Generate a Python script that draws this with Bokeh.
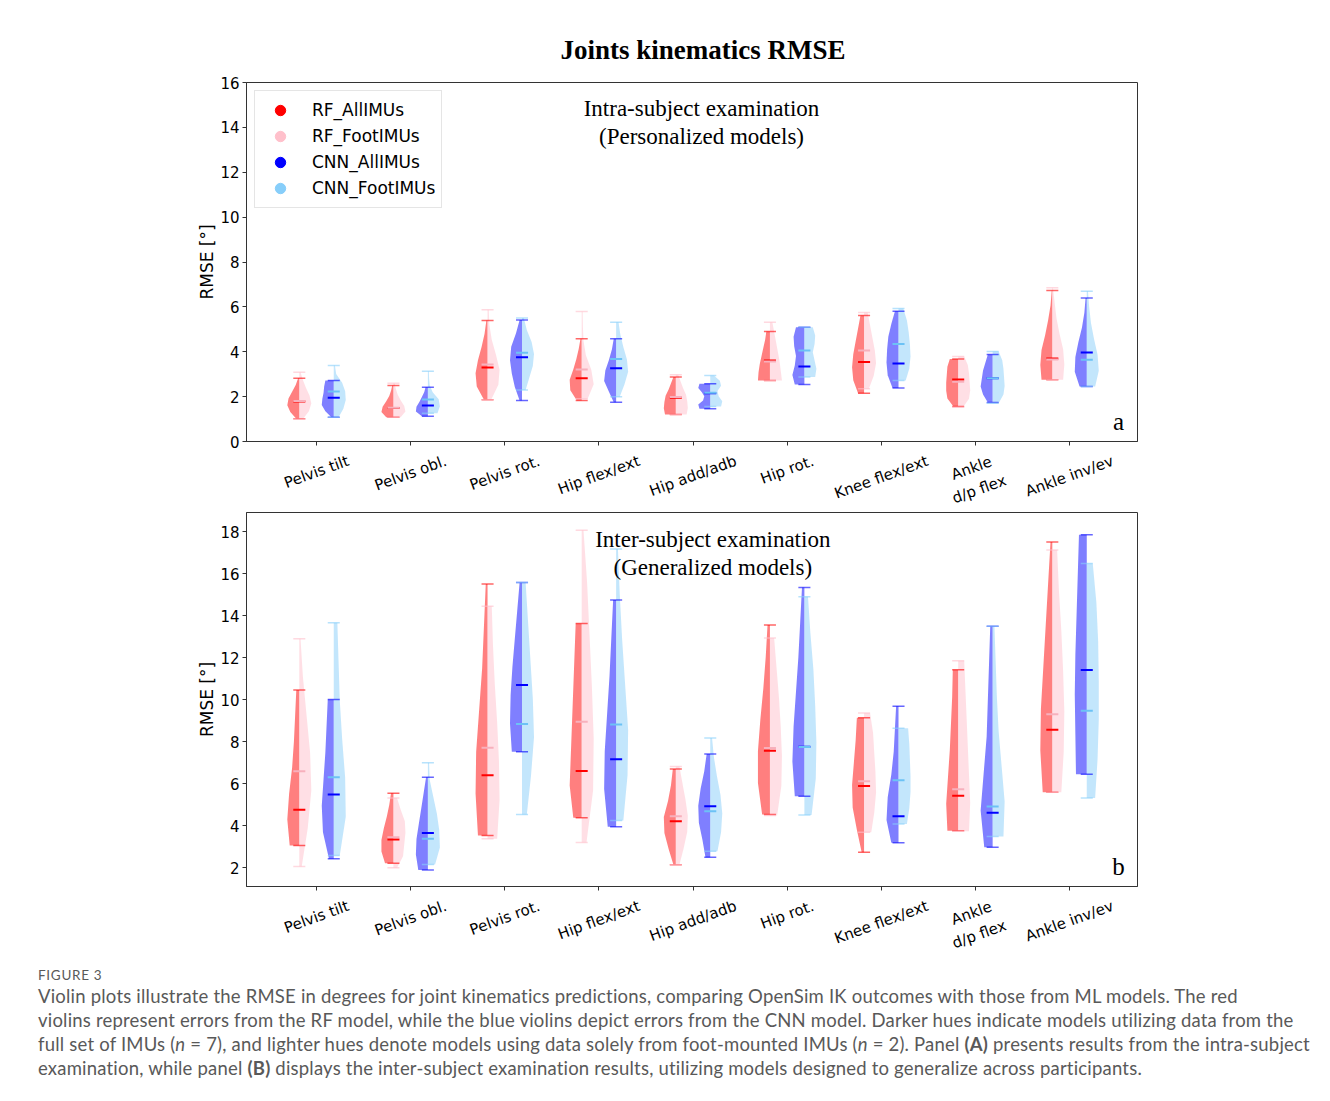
import math
from bokeh.plotting import figure
from bokeh.models import (FixedTicker, Range1d, Label, Legend, LegendItem, Div)
from bokeh.layouts import column
from bokeh.embed import file_html
from bokeh.resources import INLINE
from bokeh.core.properties import value

# ---------------- data ----------------
JOINTS = ["Pelvis tilt", "Pelvis obl.", "Pelvis rot.", "Hip flex/ext", "Hip add/adb",
          "Hip rot.", "Knee flex/ext", "Ankle\nd/p flex", "Ankle inv/ev"]
SERIES = ["RF_AllIMUs", "RF_FootIMUs", "CNN_AllIMUs", "CNN_FootIMUs"]
COLORS = ["#ff0000", "#ffc0cb", "#0000ff", "#87cefa"]
MEDIAN_COLORS = ["#ff0000", "#f7b0bc", "#0000ff", "#6cc2f5"]

A_YTICKS = [0, 2, 4, 6, 8, 10, 12, 14, 16]
B_YTICKS = [2, 4, 6, 8, 10, 12, 14, 16, 18]

# Panel A (intra-subject) : min / median / max per joint
A_RF_ALL_MIN = [1.01, 1.08, 1.86, 1.83, 1.20, 2.72, 2.15, 1.56, 2.75]
A_RF_ALL_MED = [1.78, 1.49, 3.30, 2.82, 1.95, 3.61, 3.54, 2.76, 3.70]
A_RF_ALL_MAX = [2.82, 2.50, 5.39, 4.58, 2.87, 4.90, 5.62, 3.68, 6.73]
A_RF_FOOT_MIN = [1.00, 1.08, 1.86, 1.90, 1.20, 2.72, 2.35, 1.53, 2.75]
A_RF_FOOT_MED = [1.80, 1.50, 3.43, 3.21, 1.98, 3.56, 4.06, 2.66, 3.65]
A_RF_FOOT_MAX = [3.09, 2.60, 5.87, 5.79, 2.97, 5.32, 5.75, 3.79, 6.85]
A_CNN_ALL_MIN = [1.08, 1.12, 1.83, 1.75, 1.46, 2.54, 2.38, 1.74, 2.45]
A_CNN_ALL_MED = [1.95, 1.60, 3.76, 3.27, 2.15, 3.34, 3.48, 2.82, 3.97]
A_CNN_ALL_MAX = [2.72, 2.42, 5.42, 4.58, 2.57, 5.09, 5.81, 3.88, 6.39]
A_CNN_FOOT_MIN = [1.08, 1.26, 2.30, 2.00, 1.56, 2.87, 2.72, 1.71, 2.45]
A_CNN_FOOT_MED = [2.23, 1.87, 3.95, 3.68, 2.17, 4.06, 4.35, 2.82, 3.64]
A_CNN_FOOT_MAX = [3.39, 3.13, 5.50, 5.32, 2.94, 5.09, 5.93, 4.01, 6.70]

# relative density (0..1) at 7 evenly spaced levels from min to max
A_RF_ALL_SHAPE = [[0.25, 0.75, 1.0, 0.9, 0.6, 0.3, 0.1], [0.6, 1.0, 0.9, 0.6, 0.35, 0.2, 0.1],
                  [0.3, 0.9, 1.0, 0.8, 0.5, 0.25, 0.1], [0.4, 0.95, 1.0, 0.7, 0.45, 0.25, 0.1],
                  [0.9, 1.0, 0.95, 0.85, 0.6, 0.4, 0.2], [1.0, 0.95, 0.85, 0.7, 0.55, 0.4, 0.3],
                  [0.5, 0.9, 1.0, 0.9, 0.7, 0.5, 0.3], [0.4, 0.9, 1.0, 1.0, 0.95, 0.9, 0.7],
                  [0.9, 1.0, 0.9, 0.6, 0.35, 0.15, 0.05]]
A_RF_FOOT_SHAPE = [[0.3, 0.8, 1.0, 0.85, 0.55, 0.3, 0.1], [0.6, 1.0, 0.9, 0.6, 0.35, 0.2, 0.1],
                   [0.3, 0.9, 1.0, 0.7, 0.35, 0.15, 0.1], [0.5, 1.0, 0.8, 0.35, 0.15, 0.1, 0.08],
                   [0.9, 1.0, 0.95, 0.85, 0.6, 0.4, 0.2], [1.0, 0.9, 0.8, 0.65, 0.5, 0.35, 0.2],
                   [0.4, 0.8, 1.0, 0.9, 0.7, 0.5, 0.3], [0.4, 0.9, 1.0, 0.95, 0.9, 0.8, 0.5],
                   [0.9, 1.0, 0.9, 0.6, 0.35, 0.2, 0.05]]
A_CNN_ALL_SHAPE = [[0.2, 0.7, 1.0, 0.95, 0.85, 0.8, 0.7], [0.5, 1.0, 0.95, 0.7, 0.5, 0.3, 0.2],
                   [0.2, 0.6, 0.85, 1.0, 0.9, 0.5, 0.2], [0.2, 0.6, 1.0, 0.9, 0.6, 0.35, 0.2],
                   [0.9, 1.0, 0.6, 0.5, 0.7, 1.0, 0.9], [0.8, 1.0, 0.8, 0.7, 0.85, 0.9, 0.7],
                   [0.5, 0.9, 1.0, 0.95, 0.85, 0.6, 0.3], [0.4, 0.8, 1.0, 0.9, 0.8, 0.6, 0.4],
                   [0.6, 1.0, 0.95, 0.7, 0.4, 0.2, 0.1]]
A_CNN_FOOT_SHAPE = [[0.4, 0.8, 1.0, 0.95, 0.7, 0.2, 0.1], [0.8, 1.0, 0.9, 0.4, 0.15, 0.1, 0.08],
                    [0.3, 0.6, 0.9, 1.0, 0.8, 0.4, 0.15], [0.3, 0.7, 1.0, 0.9, 0.6, 0.35, 0.2],
                    [0.9, 1.0, 0.7, 0.6, 0.9, 0.8, 0.3], [0.9, 1.0, 0.85, 0.7, 0.85, 0.9, 0.7],
                    [0.6, 0.9, 1.0, 0.95, 0.85, 0.7, 0.4], [0.5, 0.9, 1.0, 0.95, 0.9, 0.8, 0.5],
                    [0.7, 1.0, 0.9, 0.6, 0.35, 0.2, 0.1]]

# Panel B (inter-subject)
B_RF_ALL_MIN = [3.06, 2.22, 3.54, 4.38, 2.14, 4.54, 2.74, 3.77, 5.60]
B_RF_ALL_MED = [4.77, 3.35, 6.41, 6.61, 4.22, 7.58, 5.90, 5.43, 8.57]
B_RF_ALL_MAX = [10.47, 5.55, 15.51, 13.64, 6.71, 13.56, 9.14, 11.43, 17.52]
B_RF_FOOT_MIN = [2.06, 2.00, 3.38, 3.20, 2.14, 4.49, 3.69, 3.74, 5.60]
B_RF_FOOT_MED = [6.60, 3.45, 7.72, 8.96, 4.45, 7.71, 6.12, 5.74, 9.31]
B_RF_FOOT_MAX = [12.91, 5.33, 14.45, 18.08, 6.82, 12.94, 9.37, 11.86, 17.14]
B_CNN_ALL_MIN = [2.43, 1.90, 7.53, 3.95, 2.50, 5.41, 3.19, 2.98, 6.45]
B_CNN_ALL_MED = [5.49, 3.66, 10.71, 7.17, 4.93, 7.77, 4.45, 4.62, 11.42]
B_CNN_ALL_MAX = [10.02, 6.31, 15.59, 14.75, 7.42, 15.35, 9.69, 13.50, 17.86]
B_CNN_FOOT_MIN = [2.59, 2.16, 4.54, 4.25, 2.79, 4.52, 4.09, 3.49, 5.33]
B_CNN_FOOT_MED = [6.31, 3.38, 8.85, 8.83, 4.69, 7.75, 6.17, 4.92, 9.48]
B_CNN_FOOT_MAX = [13.67, 7.00, 15.59, 17.18, 8.18, 14.91, 8.64, 13.50, 16.49]

B_RF_ALL_SHAPE = [[0.8, 1.0, 0.85, 0.6, 0.45, 0.35, 0.25], [0.7, 1.0, 1.0, 0.8, 0.55, 0.35, 0.2],
                  [0.8, 1.0, 0.95, 0.7, 0.45, 0.3, 0.15], [0.7, 1.0, 0.9, 0.8, 0.7, 0.6, 0.5],
                  [0.2, 0.6, 0.95, 1.0, 0.65, 0.4, 0.25], [0.65, 1.0, 1.0, 0.8, 0.55, 0.35, 0.2],
                  [0.2, 0.6, 0.95, 1.0, 0.85, 0.7, 0.6], [0.9, 1.0, 0.85, 0.7, 0.6, 0.5, 0.45],
                  [0.8, 1.0, 0.95, 0.75, 0.55, 0.35, 0.15]]
B_RF_FOOT_SHAPE = [[0.2, 0.7, 1.0, 0.9, 0.6, 0.3, 0.1], [0.3, 0.8, 0.9, 1.0, 0.95, 0.6, 0.3],
                   [0.8, 1.0, 0.95, 0.8, 0.6, 0.45, 0.35], [0.4, 0.95, 1.0, 0.85, 0.65, 0.45, 0.15],
                   [0.3, 0.65, 0.95, 1.0, 0.8, 0.55, 0.3], [0.6, 0.95, 1.0, 0.9, 0.75, 0.55, 0.35],
                   [0.6, 0.85, 1.0, 0.95, 0.85, 0.75, 0.5], [0.9, 1.0, 0.9, 0.8, 0.7, 0.6, 0.5],
                   [0.75, 0.95, 1.0, 0.9, 0.75, 0.55, 0.4]]
B_CNN_ALL_SHAPE = [[0.4, 0.9, 1.0, 0.85, 0.7, 0.6, 0.5], [0.8, 1.0, 0.95, 0.75, 0.55, 0.35, 0.15],
                   [0.85, 1.0, 0.95, 0.8, 0.6, 0.4, 0.2], [0.7, 1.0, 0.95, 0.75, 0.55, 0.4, 0.25],
                   [0.4, 0.65, 0.95, 1.0, 0.8, 0.5, 0.3], [0.8, 1.0, 0.9, 0.7, 0.5, 0.35, 0.2],
                   [0.6, 1.0, 0.9, 0.6, 0.4, 0.3, 0.2], [0.7, 1.0, 0.75, 0.5, 0.4, 0.3, 0.2],
                   [0.9, 0.95, 1.0, 0.95, 0.85, 0.75, 0.65]]
B_CNN_FOOT_SHAPE = [[0.5, 1.0, 0.95, 0.7, 0.5, 0.4, 0.3], [0.6, 1.0, 0.95, 0.75, 0.45, 0.15, 0.1],
                    [0.4, 0.75, 1.0, 0.9, 0.7, 0.5, 0.3], [0.6, 0.95, 1.0, 0.75, 0.5, 0.3, 0.15],
                    [0.6, 0.9, 1.0, 0.85, 0.55, 0.3, 0.15], [0.6, 0.95, 1.0, 0.9, 0.75, 0.5, 0.3],
                    [0.7, 0.9, 1.0, 1.0, 0.95, 0.9, 0.8], [0.9, 1.0, 0.75, 0.5, 0.35, 0.25, 0.15],
                    [0.7, 0.9, 1.0, 1.0, 0.95, 0.8, 0.5]]

TITLE = "Joints kinematics RMSE"
A_NOTE = ["Intra-subject examination", "(Personalized models)"]
B_NOTE = ["Inter-subject examination", "(Generalized models)"]
Y_LABEL = "RMSE [°]"

CAPTION_HEAD = "FIGURE 3"
CAPTION_LINES = [
    "Violin plots illustrate the RMSE in degrees for joint kinematics predictions, comparing OpenSim IK outcomes with those from ML models. The red",
    "violins represent errors from the RF model, while the blue violins depict errors from the CNN model. Darker hues indicate models utilizing data from the",
    "full set of IMUs (<i>n</i> = 7), and lighter hues denote models using data solely from foot-mounted IMUs (<i>n</i> = 2). Panel <b>(A)</b> presents results from the intra-subject",
    "examination, while panel <b>(B)</b> displays the inter-subject examination results, utilizing models designed to generalize across participants.",
]

# ---------------- styling constants ----------------
HALF = 0.1275     # max half-width of a violin half (x units)
CAP = 0.064       # half length of min/max/median bars
OFF = 0.183       # offset of RF / CNN violin from the tick
ANG = math.radians(20)
SANS = "DejaVu Sans"
SERIF = "Liberation Serif"
AXC = "#333333"
X_RANGE = (-0.744, 8.722)
FRAME_W = 891
BL, BR = 246, 193
GAP = 9           # border under each panel, above its label strip
XL_SIZE = 15
XL_LH = 1.25
# approximate DejaVu Sans advance widths (em) for laying out the rotated labels
DJV = {" ": .318, "P": .603, "e": .615, "l": .278, "v": .592, "i": .278, "s": .521, "t": .392,
       "o": .612, "b": .635, ".": .318, "r": .411, "H": .752, "p": .635, "f": .352, "x": .592,
       "/": .337, "a": .613, "d": .635, "K": .656, "n": .634, "A": .684, "k": .579}


def make_panel(yr, yticks, mins, meds, maxs, shapes, frame_h, b_top):
    p = figure(frame_width=FRAME_W, frame_height=frame_h,
               x_range=Range1d(*X_RANGE), y_range=Range1d(*yr),
               output_backend="svg", toolbar_location=None,
               min_border_left=BL, min_border_right=BR,
               min_border_top=b_top, min_border_bottom=GAP,
               background_fill_color="white", border_fill_color="white")
    p.xgrid.visible = False
    p.ygrid.visible = False
    p.outline_line_color = AXC
    p.outline_line_width = 1

    for ax in (p.xaxis[0], p.yaxis[0]):
        ax.axis_line_color = AXC
        ax.major_tick_line_color = AXC
        ax.major_tick_out = 4
        ax.major_tick_in = 0
        ax.minor_tick_out = 0
        ax.minor_tick_in = 0
    p.xaxis.ticker = FixedTicker(ticks=list(range(len(JOINTS))))
    p.xaxis.major_label_overrides = {i: "" for i in range(len(JOINTS))}
    p.xaxis.major_label_text_font_size = "0px"
    p.xaxis.major_label_standoff = 0
    p.yaxis.ticker = FixedTicker(ticks=yticks)
    p.yaxis.major_label_text_font = SANS
    p.yaxis.major_label_text_font_size = "15px"
    p.yaxis.major_label_text_color = "black"
    p.yaxis.major_label_standoff = 3
    p.yaxis.axis_label = Y_LABEL
    p.yaxis.axis_label_text_font = SANS
    p.yaxis.axis_label_text_font_size = "17px"
    p.yaxis.axis_label_text_font_style = "normal"
    p.yaxis.axis_label_text_color = "black"
    p.yaxis.axis_label_standoff = 0

    n = len(JOINTS)
    # violin bodies (left half = all IMUs, right half = foot IMUs)
    for k in range(4):
        off = -OFF if k < 2 else OFF
        side = -1 if k % 2 == 0 else 1
        xs, ys = [], []
        for j in range(n):
            c = j + off
            mn, mx = mins[k][j], maxs[k][j]
            prof = shapes[k][j]
            m = len(prof)
            lv = [mn + (mx - mn) * i / (m - 1) for i in range(m)]
            xs.append([c] + [c + side * HALF * w for w in prof] + [c])
            ys.append([mn] + lv + [mx])
        p.patches(xs, ys, fill_color=COLORS[k], fill_alpha=0.5, line_color=None)
    # min / max / median bars
    for k in range(4):
        off = -OFF if k < 2 else OFF
        cs = [j + off for j in range(n)]
        x0 = [c - CAP for c in cs]
        x1 = [c + CAP for c in cs]
        for vals in (mins[k], maxs[k]):
            p.segment(x0=x0, y0=vals, x1=x1, y1=vals, line_color=COLORS[k],
                      line_alpha=0.6, line_width=1.5)
        p.segment(x0=x0, y0=meds[k], x1=x1, y1=meds[k], line_color=MEDIAN_COLORS[k],
                  line_alpha=1.0, line_width=2)
    return p


def make_strip(h):
    # strip below a panel holding the rotated category labels, centred on the ticks
    s = figure(frame_width=FRAME_W, frame_height=h,
               x_range=Range1d(*X_RANGE), y_range=Range1d(0, h),
               x_axis_location=None, y_axis_location=None,
               output_backend="svg", toolbar_location=None,
               min_border_left=BL, min_border_right=BR, min_border_top=0, min_border_bottom=0,
               outline_line_color=None, background_fill_color="white", border_fill_color="white")
    s.grid.visible = False
    ys = []
    for t in JOINTS:
        lines = t.split("\n")
        nl = len(lines)
        w = max(sum(DJV.get(ch, 0.6) for ch in l) for l in lines) * XL_SIZE
        hh = XL_SIZE * (1.17 + XL_LH * (nl - 1))
        half_h = (w * math.sin(ANG) + hh * math.cos(ANG)) / 2
        ys.append(h - (half_h + 1.5))
    s.text(x=list(range(len(JOINTS))), y=ys, text=JOINTS, angle=ANG,
           text_align="center", text_baseline="middle",
           text_font=value(SANS), text_font_size="%dpx" % XL_SIZE, text_color="black",
           text_line_height=XL_LH)
    return s


A_MINS = [A_RF_ALL_MIN, A_RF_FOOT_MIN, A_CNN_ALL_MIN, A_CNN_FOOT_MIN]
A_MEDS = [A_RF_ALL_MED, A_RF_FOOT_MED, A_CNN_ALL_MED, A_CNN_FOOT_MED]
A_MAXS = [A_RF_ALL_MAX, A_RF_FOOT_MAX, A_CNN_ALL_MAX, A_CNN_FOOT_MAX]
A_SHAPES = [A_RF_ALL_SHAPE, A_RF_FOOT_SHAPE, A_CNN_ALL_SHAPE, A_CNN_FOOT_SHAPE]
B_MINS = [B_RF_ALL_MIN, B_RF_FOOT_MIN, B_CNN_ALL_MIN, B_CNN_FOOT_MIN]
B_MEDS = [B_RF_ALL_MED, B_RF_FOOT_MED, B_CNN_ALL_MED, B_CNN_FOOT_MED]
B_MAXS = [B_RF_ALL_MAX, B_RF_FOOT_MAX, B_CNN_ALL_MAX, B_CNN_FOOT_MAX]
B_SHAPES = [B_RF_ALL_SHAPE, B_RF_FOOT_SHAPE, B_CNN_ALL_SHAPE, B_CNN_FOOT_SHAPE]

pa = make_panel((0, 16), A_YTICKS, A_MINS, A_MEDS, A_MAXS, A_SHAPES, 359, 82)
sa = make_strip(60)
pb = make_panel((1.11, 18.92), B_YTICKS, B_MINS, B_MEDS, B_MAXS, B_SHAPES, 374, 2)
sb = make_strip(61)

# title
pa.title.text = TITLE
pa.title.align = "left"
pa.title.offset = 314
pa.title.text_font = SERIF
pa.title.text_font_style = "bold"
pa.title.text_font_size = "27px"
pa.title.text_color = "black"
pa.title.standoff = 36

# annotations inside panels
for p, note, xc, ys, tag, ty in ((pa, A_NOTE, 4.09, (14.84, 13.59), "a", 0.89),
                                 (pb, B_NOTE, 4.21, (17.62, 16.29), "b", 2.06)):
    for txt, yy in zip(note, ys):
        p.add_layout(Label(x=xc, y=yy, text=txt, text_align="center", text_baseline="middle",
                           text_font=SERIF, text_font_size="23px", text_color="black"))
    p.add_layout(Label(x=8.52, y=ty, text=tag, text_align="center", text_baseline="middle",
                       text_font=SERIF, text_font_size="25px", text_color="black"))

# legend (markers with no visible position; only their legend glyphs are shown)
NAN = float("nan")
rs = [pa.scatter([NAN], [NAN], marker="circle", fill_color=c, line_color=c, size=12) for c in COLORS]
legend = Legend(items=[LegendItem(label=s, renderers=[r]) for s, r in zip(SERIES, rs)],
                location="top_left", margin=8, padding=6, spacing=0,
                glyph_width=38, glyph_height=26, label_height=26, label_standoff=13,
                label_text_font=SANS, label_text_font_size="17px", label_text_color="black",
                border_line_color="#cccccc", border_line_width=1,
                background_fill_color="white", background_fill_alpha=0.85)
pa.add_layout(legend)

# caption
cap_html = (
    '<div style="font-family:Lato, sans-serif; color:#595959; padding-left:33px; padding-top:5px;">'
    '<div style="font-size:13.5px; line-height:18px; letter-spacing:0.7px;">' + CAPTION_HEAD + '</div>'
    '<div style="font-size:18.5px; line-height:24px; white-space:nowrap; letter-spacing:0.2px;">'
    + "<br>".join(CAPTION_LINES) + '</div></div>'
)
cap = Div(text=cap_html, width=1330, height=130)

layout = column(pa, sa, pb, sb, cap, spacing=0)
open("out.html", "w").write(file_html(layout, INLINE, "Joints kinematics RMSE"))
